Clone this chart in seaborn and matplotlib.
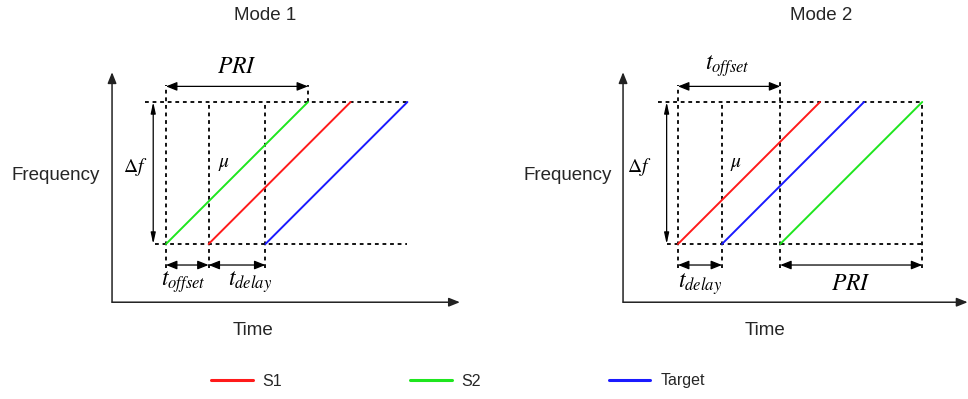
import pandas as pd
import seaborn as sns
import matplotlib.pyplot as plt

# chirp start times (in units of chirp duration), one list per mode
signals = ['S1', 'S2', 'Target']
colors = ['#ff1a1a', '#1ee61e', '#1a1aff']
starts_mode1 = [0.30, 0.00, 0.70]
starts_mode2 = [0.00, 0.72, 0.31]
chirp_duration = 1.0
bandwidth = 1.0


def chirp_frame(starts, mode):
    rows = []
    for name, t0 in zip(signals, starts):
        rows.append({'mode': mode, 'signal': name, 'time': t0, 'freq': 0.0})
        rows.append({'mode': mode, 'signal': name, 'time': t0 + chirp_duration, 'freq': bandwidth})
    return pd.DataFrame(rows)


df = pd.concat([chirp_frame(starts_mode1, 'Mode 1'), chirp_frame(starts_mode2, 'Mode 2')],
               ignore_index=True)

sns.set_theme(style='white')
plt.rcParams['font.family'] = ['Liberation Sans', 'DejaVu Sans']
plt.rcParams['mathtext.fontset'] = 'stix'

W, H = 968, 399
S = 142.0  # px per unit
fig = plt.figure(figsize=(W / 100, H / 100), dpi=100)


def make_axes(px0, origin_px, base_py=244):
    # axes covering half the figure, data units mapped 1:1 to pixel grid
    ax = fig.add_axes([px0 / W, 0, 484 / W, 1])
    ax.set_xlim((px0 - origin_px) / S, (px0 + 484 - origin_px) / S)
    ax.set_ylim((base_py - H) / S, base_py / S)
    ax.axis('off')
    return ax


def dotted(ax, xs, ys):
    ax.plot(xs, ys, color='black', lw=1.3, linestyle=(0, (2.1, 2.1)), zorder=1)


def arrow2(ax, x0, y0, x1, y1, hw=0.22):
    ax.annotate('', xy=(x1, y1), xytext=(x0, y0),
                arrowprops=dict(arrowstyle=f'<|-|>,head_length=0.55,head_width={hw}',
                                color='black', lw=0.9, shrinkA=0, shrinkB=0))


def axes_arrows(ax, x_axis, y_axis, x_tip, y_tip):
    props = dict(arrowstyle='-|>,head_length=0.55,head_width=0.22', color='#222222',
                 lw=1.1, shrinkA=0, shrinkB=0)
    ax.annotate('', xy=(x_tip, y_axis), xytext=(x_axis, y_axis), arrowprops=props)
    ax.annotate('', xy=(x_axis, y_tip), xytext=(x_axis, y_axis), arrowprops=props)


palette = dict(zip(signals, colors))
math_kw = dict(ha='center', va='center', color='black')
big, small, label_fs = 17, 14, 13.5

# ---- Mode 1 ----
ax1 = make_axes(0, 166)
d1 = df[df['mode'] == 'Mode 1']
sns.lineplot(data=d1, x='time', y='freq', hue='signal', hue_order=signals, palette=palette,
             estimator=None, sort=False, lw=1.4, ax=ax1)
handles, labels = ax1.get_legend_handles_labels()
ax1.get_legend().remove()

end1 = max(starts_mode1) + chirp_duration
dotted(ax1, [-0.15, end1], [1, 1])
dotted(ax1, [-0.08, end1], [0, 0])
dotted(ax1, [0, 0], [-0.17, 1.12])
dotted(ax1, [0.30, 0.30], [-0.17, 1.0])
dotted(ax1, [0.70, 0.70], [-0.17, 1.0])
dotted(ax1, [1.0, 1.0], [1.0, 1.12])
arrow2(ax1, 0, 1.11, 1.0, 1.11)
arrow2(ax1, -0.09, 0, -0.09, 1, hw=0.12)
arrow2(ax1, 0, -0.148, 0.30, -0.148)
arrow2(ax1, 0.30, -0.148, 0.70, -0.148)
ax1.text(0.50, 1.245, r'$PRI$', fontsize=big, **math_kw)
ax1.text(-0.22, 0.54, r'$\Delta f$', fontsize=small, **math_kw)
ax1.text(0.41, 0.56, r'$\mu$', fontsize=small, **math_kw)
ax1.text(0.12, -0.27, r'$t_{offset}$', fontsize=big, **math_kw)
ax1.text(0.59, -0.27, r'$t_{delay}$', fontsize=big, **math_kw)
axes_arrows(ax1, -0.38, -0.41, 2.07, 1.21)
ax1.text(-0.78, 0.48, 'Frequency', fontsize=label_fs, ha='center', va='center')
ax1.text(0.61, -0.61, 'Time', fontsize=label_fs, ha='center', va='center')
ax1.text(0.70, 1.61, 'Mode 1', fontsize=label_fs, ha='center', va='center')

# ---- Mode 2 ----
ax2 = make_axes(484, 678)
d2 = df[df['mode'] == 'Mode 2']
sns.lineplot(data=d2, x='time', y='freq', hue='signal', hue_order=signals, palette=palette,
             estimator=None, sort=False, lw=1.4, legend=False, ax=ax2)

end2 = max(starts_mode2) + chirp_duration
dotted(ax2, [-0.14, end2], [1, 1])
dotted(ax2, [-0.08, end2], [0, 0])
dotted(ax2, [0, 0], [-0.17, 1.12])
dotted(ax2, [0.31, 0.31], [-0.17, 1.0])
dotted(ax2, [0.72, 0.72], [-0.17, 1.14])
dotted(ax2, [end2, end2], [-0.17, 1.0])
arrow2(ax2, 0, 1.11, 0.72, 1.11)
arrow2(ax2, -0.08, 0, -0.08, 1, hw=0.12)
arrow2(ax2, 0, -0.148, 0.31, -0.148)
arrow2(ax2, 0.72, -0.148, end2, -0.148)
ax2.text(0.35, 1.25, r'$t_{offset}$', fontsize=big, **math_kw)
ax2.text(-0.27, 0.54, r'$\Delta f$', fontsize=small, **math_kw)
ax2.text(0.41, 0.56, r'$\mu$', fontsize=small, **math_kw)
ax2.text(0.155, -0.28, r'$t_{delay}$', fontsize=big, **math_kw)
ax2.text(1.22, -0.28, r'$PRI$', fontsize=big, **math_kw)
axes_arrows(ax2, -0.387, -0.41, 2.04, 1.21)
ax2.text(-0.78, 0.48, 'Frequency', fontsize=label_fs, ha='center', va='center')
ax2.text(0.61, -0.61, 'Time', fontsize=label_fs, ha='center', va='center')
ax2.text(1.01, 1.61, 'Mode 2', fontsize=label_fs, ha='center', va='center')

# ---- shared legend ----
for h in handles:
    h.set_linewidth(2.2)
fig.legend(handles, labels, loc='center', bbox_to_anchor=(458 / W, 1 - 381 / H), ncol=3,
           frameon=False, fontsize=11.5, handlelength=2.6, handletextpad=0.62, columnspacing=8.0)

fig.savefig('out.png', dpi=100)
